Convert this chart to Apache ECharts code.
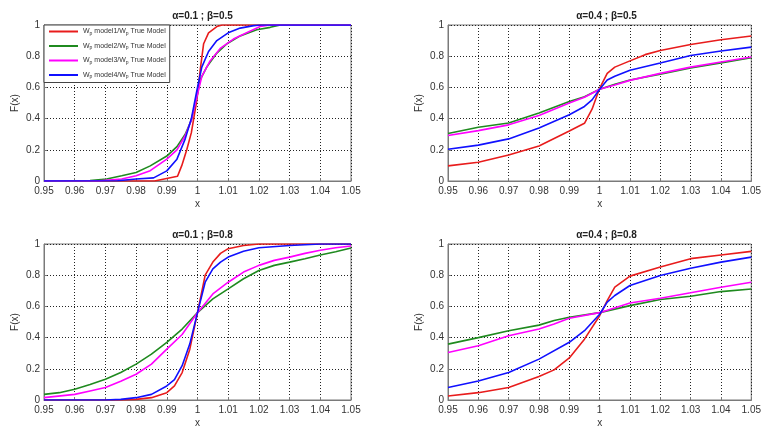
<!DOCTYPE html>
<html><head><meta charset="utf-8">
<script src="https://cdn.jsdelivr.net/npm/echarts@6/dist/echarts.min.js"></script>
<style>html,body{margin:0;padding:0;background:#fff}#c{width:764px;height:431px}</style>
</head><body><div id="c"></div>
<script>
// ---- data ----
const seriesNames = ['model1', 'model2', 'model3', 'model4'];
const panelTitles = ['α=0.1 ; β=0.5', 'α=0.4 ; β=0.5', 'α=0.1 ; β=0.8', 'α=0.4 ; β=0.8'];
const xTicks = { min: 0.95, max: 1.05, interval: 0.01 };
const yTicks = { min: 0, max: 1, interval: 0.2 };

// Panel 1: alpha=0.1, beta=0.5
const p1RedX = [0.95, 0.986, 0.9935, 0.9949, 0.9965, 0.998, 0.9998, 1.001, 1.002, 1.0036, 1.0063, 1.008, 1.05];
const p1RedY = [0, 0, 0.03, 0.1, 0.2, 0.31, 0.52, 0.73, 0.88, 0.95, 0.99, 1, 1];
const p1GreenX = [0.95, 0.965, 0.9704, 0.9753, 0.98, 0.9846, 0.99, 0.9933, 0.996, 0.998, 0.9998, 1.0009, 1.003, 1.0063, 1.0096, 1.0139, 1.0193, 1.0237, 1.027, 1.05];
const p1GreenY = [0, 0.003, 0.013, 0.034, 0.055, 0.097, 0.16, 0.22, 0.30, 0.39, 0.54, 0.65, 0.73, 0.82, 0.88, 0.93, 0.97, 0.985, 1, 1];
const p1MagX = [0.95, 0.968, 0.9753, 0.98, 0.9846, 0.99, 0.9933, 0.996, 0.998, 0.9998, 1.0014, 1.0041, 1.0074, 1.0117, 1.016, 1.0204, 1.0237, 1.05];
const p1MagY = [0, 0.002, 0.013, 0.034, 0.066, 0.14, 0.20, 0.29, 0.39, 0.54, 0.67, 0.77, 0.85, 0.91, 0.95, 0.99, 1, 1];
const p1BlueX = [0.95, 0.974, 0.98, 0.9857, 0.99, 0.9933, 0.996, 0.998, 0.9998, 1.0014, 1.0036, 1.0063, 1.01, 1.0139, 1.0183, 1.0204, 1.05];
const p1BlueY = [0, 0.002, 0.013, 0.02, 0.065, 0.14, 0.27, 0.40, 0.58, 0.73, 0.83, 0.90, 0.95, 0.98, 0.996, 1, 1];

// Panel 2: alpha=0.4, beta=0.5
const p2RedX = [0.95, 0.96, 0.97, 0.98, 0.99, 0.995, 0.9975, 1.0, 1.0025, 1.005, 1.01, 1.015, 1.02, 1.03, 1.04, 1.05];
const p2RedY = [0.097, 0.12, 0.167, 0.224, 0.32, 0.37, 0.46, 0.594, 0.69, 0.73, 0.77, 0.81, 0.837, 0.875, 0.905, 0.93];
const p2BlueX = [0.95, 0.96, 0.97, 0.98, 0.99, 0.995, 0.9975, 1.0, 1.0025, 1.005, 1.01, 1.02, 1.03, 1.04, 1.05];
const p2BlueY = [0.203, 0.23, 0.27, 0.34, 0.425, 0.478, 0.52, 0.588, 0.647, 0.672, 0.71, 0.757, 0.805, 0.833, 0.858];
const p2GreenX = [0.95, 0.96, 0.97, 0.98, 0.99, 0.995, 1.0, 1.005, 1.01, 1.02, 1.03, 1.04, 1.05];
const p2GreenY = [0.305, 0.345, 0.372, 0.436, 0.51, 0.54, 0.588, 0.62, 0.647, 0.685, 0.725, 0.757, 0.79];
const p2MagX = [0.95, 0.96, 0.97, 0.98, 0.99, 0.995, 1.0, 1.005, 1.01, 1.02, 1.03, 1.04, 1.05];
const p2MagY = [0.292, 0.323, 0.36, 0.42, 0.5, 0.537, 0.588, 0.615, 0.645, 0.69, 0.73, 0.763, 0.795];

// Panel 3: alpha=0.1, beta=0.8
const p3RedX = [0.95, 0.975, 0.98, 0.985, 0.99, 0.9925, 0.995, 0.9975, 1.0, 1.0025, 1.005, 1.0075, 1.01, 1.015, 1.02, 1.05];
const p3RedY = [0, 0, 0.004, 0.015, 0.047, 0.09, 0.176, 0.326, 0.56, 0.80, 0.884, 0.94, 0.97, 0.99, 1, 1];
const p3BlueX = [0.95, 0.97, 0.975, 0.98, 0.985, 0.99, 0.9925, 0.995, 0.9975, 1.0, 1.0025, 1.005, 1.0075, 1.01, 1.015, 1.02, 1.03, 1.04, 1.05];
const p3BlueY = [0, 0, 0.004, 0.015, 0.036, 0.09, 0.13, 0.22, 0.36, 0.56, 0.755, 0.84, 0.884, 0.916, 0.953, 0.976, 0.99, 1, 1];
const p3GreenX = [0.95, 0.955, 0.96, 0.965, 0.97, 0.975, 0.98, 0.985, 0.99, 0.995, 1.0, 1.005, 1.01, 1.015, 1.02, 1.025, 1.03, 1.035, 1.04, 1.045, 1.05];
const p3GreenY = [0.036, 0.047, 0.069, 0.1, 0.133, 0.176, 0.23, 0.294, 0.37, 0.455, 0.56, 0.648, 0.712, 0.777, 0.83, 0.863, 0.884, 0.906, 0.93, 0.95, 0.974];
const p3MagX = [0.95, 0.96, 0.965, 0.97, 0.975, 0.98, 0.985, 0.99, 0.995, 1.0, 1.005, 1.01, 1.015, 1.02, 1.025, 1.03, 1.035, 1.04, 1.045, 1.05];
const p3MagY = [0.015, 0.036, 0.058, 0.08, 0.12, 0.165, 0.23, 0.326, 0.42, 0.56, 0.68, 0.755, 0.82, 0.863, 0.895, 0.916, 0.94, 0.96, 0.976, 0.987];

// Panel 4: alpha=0.4, beta=0.8
const p4RedX = [0.95, 0.96, 0.97, 0.98, 0.985, 0.99, 0.995, 1.0, 1.0025, 1.005, 1.01, 1.02, 1.03, 1.04, 1.05];
const p4RedY = [0.026, 0.047, 0.08, 0.15, 0.193, 0.27, 0.39, 0.54, 0.637, 0.723, 0.794, 0.852, 0.906, 0.93, 0.953];
const p4BlueX = [0.95, 0.96, 0.97, 0.98, 0.99, 0.995, 1.0, 1.0025, 1.005, 1.01, 1.02, 1.03, 1.04, 1.05];
const p4BlueY = [0.08, 0.122, 0.176, 0.262, 0.37, 0.444, 0.55, 0.627, 0.67, 0.734, 0.798, 0.845, 0.884, 0.916];
const p4GreenX = [0.95, 0.96, 0.97, 0.98, 0.985, 0.99, 1.0, 1.01, 1.02, 1.03, 1.04, 1.05];
const p4GreenY = [0.358, 0.4, 0.444, 0.48, 0.51, 0.53, 0.56, 0.605, 0.644, 0.665, 0.695, 0.712];
const p4MagX = [0.95, 0.96, 0.97, 0.98, 0.985, 0.99, 1.0, 1.01, 1.02, 1.03, 1.04, 1.05];
const p4MagY = [0.305, 0.348, 0.412, 0.455, 0.487, 0.524, 0.56, 0.622, 0.652, 0.687, 0.723, 0.755];

// ---- build ----
const colors = { model1: '#e81c1c', model2: '#1f8a1f', model3: '#ff00ff', model4: '#1010ff' };
const fullName = m => 'Wp ' + m + '/Wp True Model';
const panels = [
  { model1: [p1RedX, p1RedY], model2: [p1GreenX, p1GreenY], model3: [p1MagX, p1MagY], model4: [p1BlueX, p1BlueY] },
  { model1: [p2RedX, p2RedY], model2: [p2GreenX, p2GreenY], model3: [p2MagX, p2MagY], model4: [p2BlueX, p2BlueY] },
  { model1: [p3RedX, p3RedY], model2: [p3GreenX, p3GreenY], model3: [p3MagX, p3MagY], model4: [p3BlueX, p3BlueY] },
  { model1: [p4RedX, p4RedY], model2: [p4GreenX, p4GreenY], model3: [p4MagX, p4MagY], model4: [p4BlueX, p4BlueY] }
];
const gridPos = [
  { left: 44, top: 25, width: 307, height: 156 },
  { left: 448, top: 25, width: 307, height: 156 },
  { left: 44, top: 244, width: 307, height: 156 },
  { left: 448, top: 244, width: 307, height: 156 }
];
const fmt = v => (+v.toFixed(2)).toString();
const labelFont = { fontFamily: 'Arial, Liberation Sans, sans-serif', fontSize: 10, color: '#333' };

const grids = [], xAxes = [], yAxes = [], titles = [], series = [];
gridPos.forEach((g, i) => {
  grids.push(Object.assign({ show: true, borderColor: '#7a7a7a', borderWidth: 1, backgroundColor: '#fff' }, g));
  titles.push({
    text: panelTitles[i], left: g.left + g.width / 2, top: g.top - 19, textAlign: 'center',
    textStyle: { fontFamily: 'Arial, Liberation Sans, sans-serif', fontSize: 10, fontWeight: 'bold', color: '#222' }
  });
  xAxes.push({
    type: 'value', gridIndex: i, min: xTicks.min, max: xTicks.max, interval: xTicks.interval,
    name: 'x', nameLocation: 'middle', nameGap: 18, nameTextStyle: labelFont,
    axisLine: { show: true, lineStyle: { color: '#7a7a7a' } },
    axisTick: { show: true, inside: true, length: 3, lineStyle: { color: '#7a7a7a' } },
    axisLabel: Object.assign({ formatter: fmt, margin: 5, showMinLabel: true, showMaxLabel: true }, labelFont),
    splitLine: { show: true, lineStyle: { color: '#222', type: [1, 2], width: 1 } }
  });
  yAxes.push({
    type: 'value', gridIndex: i, min: yTicks.min, max: yTicks.max, interval: yTicks.interval,
    name: 'F(x)', nameLocation: 'middle', nameGap: 24, nameRotate: 90, nameTextStyle: labelFont,
    axisLine: { show: true, lineStyle: { color: '#7a7a7a' } },
    axisTick: { show: true, inside: true, length: 3, lineStyle: { color: '#7a7a7a' } },
    axisLabel: Object.assign({ formatter: fmt, margin: 4 }, labelFont),
    splitLine: { show: true, lineStyle: { color: '#222', type: [1, 2], width: 1 } }
  });
  seriesNames.forEach(m => {
    const [xs, ys] = panels[i][m];
    series.push({
      name: fullName(m), type: 'line', xAxisIndex: i, yAxisIndex: i, symbol: 'none', animation: false,
      lineStyle: { color: colors[m], width: 1.6 }, itemStyle: { color: colors[m] },
      data: xs.map((x, k) => [x, ys[k]])
    });
  });
});

const chart = echarts.init(document.getElementById('c'), null, { renderer: 'canvas' });
chart.setOption({
  backgroundColor: '#fff',
  animation: false,
  title: titles,
  grid: grids,
  xAxis: xAxes,
  yAxis: yAxes,
  legend: {
    data: seriesNames.map(fullName), orient: 'vertical', left: 44, top: 25, z: 10,
    backgroundColor: '#fff', borderColor: '#444', borderWidth: 1, padding: [3, 4, 3, 5],
    icon: 'rect', itemWidth: 29, itemHeight: 2, itemGap: 6.5, selectedMode: false,
    formatter: n => {
      const m = n.split(' ')[1].split('/')[0];
      return '{n|W}{s|p}{n| ' + m + '/W}{s|p}{n| True Model}';
    },
    textStyle: {
      fontFamily: 'Arial, Liberation Sans, sans-serif', color: '#333', fontSize: 7,
      rich: { n: { fontSize: 7, lineHeight: 9, color: '#333' }, s: { fontSize: 5, lineHeight: 9, verticalAlign: 'bottom', color: '#333', padding: [3, 0, 0, 0] } }
    }
  },
  series: series
});
</script></body></html>
